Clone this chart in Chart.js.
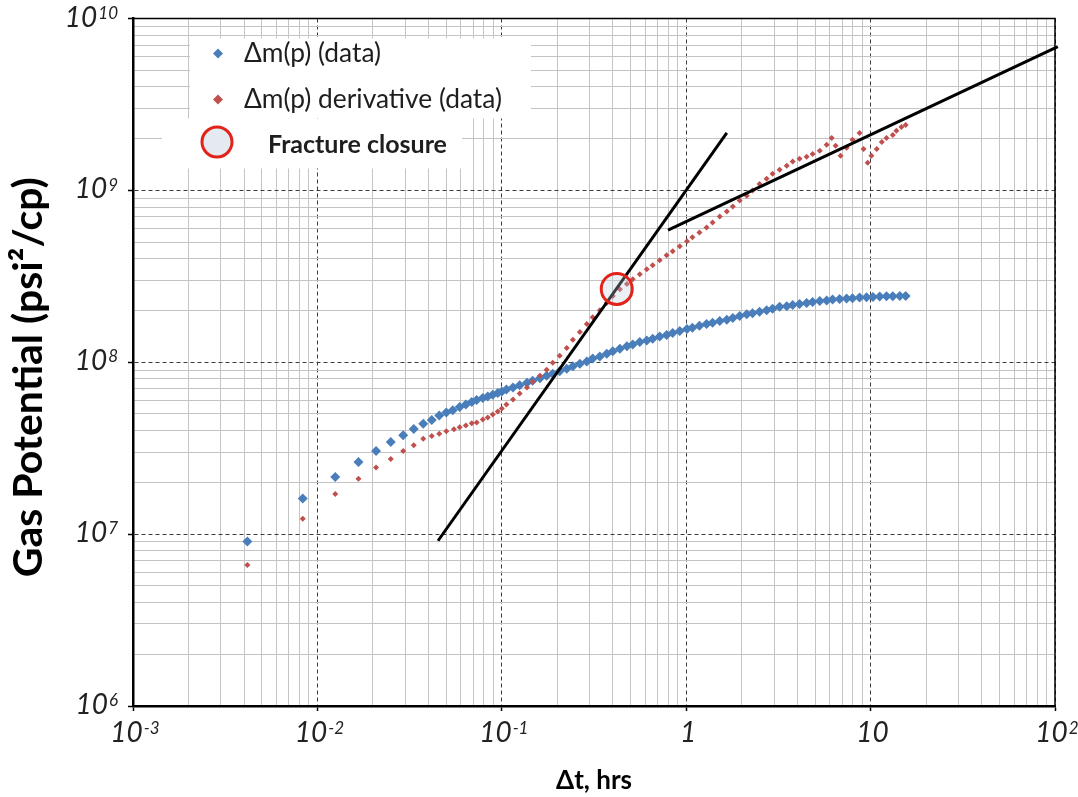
<!DOCTYPE html>
<html>
<head>
<meta charset="utf-8">
<title>Gas potential vs shut-in time</title>
<script src="https://cdn.jsdelivr.net/npm/chart.js@4/dist/chart.umd.min.js"></script>
<style>
  html, body { margin: 0; padding: 0; background: #fff; }
  #wrap { width: 1078px; height: 797px; position: relative; }
</style>
</head>
<body>
<div id="wrap"><canvas id="chart"></canvas></div>
<script>
// Shut-in time, hrs
const dmpTime = [
  0.00417, 0.00833, 0.0125, 0.0167, 0.0208, 0.025, 0.0292, 0.0333, 0.0375, 0.0417, 0.0458, 0.05, 0.0542,
  0.0591, 0.0638, 0.0687, 0.0731, 0.0789, 0.0839, 0.0893, 0.0951, 0.100, 0.106,
  0.115, 0.125, 0.137, 0.147, 0.161, 0.175, 0.189, 0.206, 0.225, 0.243,
  0.265, 0.289, 0.311, 0.340, 0.371, 0.400, 0.437, 0.477, 0.513, 0.560,
  0.611, 0.658, 0.718, 0.783, 0.845, 0.923, 1.01, 1.08, 1.18, 1.29,
  1.39, 1.52, 1.66, 1.79, 1.95, 2.13, 2.29, 2.50, 2.73, 2.94,
  3.21, 3.51, 3.78, 4.12, 4.50, 4.85, 5.30, 5.78, 6.22, 6.79,
  7.41, 7.98, 8.71, 9.51, 10.3, 11.2, 12.2, 13.2, 14.4, 15.5
];
// Δm(p), psi²/cp
const dmpValue = [
  9.06e6, 1.61e7, 2.15e7, 2.63e7, 3.05e7, 3.44e7, 3.76e7, 4.09e7, 4.39e7, 4.61e7, 4.90e7, 5.10e7, 5.26e7,
  5.49e7, 5.68e7, 5.87e7, 6.03e7, 6.19e7, 6.31e7, 6.48e7, 6.62e7, 6.75e7, 6.93e7,
  7.12e7, 7.36e7, 7.61e7, 7.81e7, 8.08e7, 8.35e7, 8.58e7, 8.87e7, 9.17e7, 9.48e7,
  9.80e7, 1.01e8, 1.05e8, 1.08e8, 1.12e8, 1.16e8, 1.20e8, 1.24e8, 1.27e8, 1.31e8,
  1.34e8, 1.37e8, 1.41e8, 1.44e8, 1.48e8, 1.52e8, 1.56e8, 1.59e8, 1.63e8, 1.67e8,
  1.70e8, 1.74e8, 1.77e8, 1.81e8, 1.86e8, 1.90e8, 1.93e8, 1.97e8, 2.01e8, 2.05e8,
  2.10e8, 2.12e8, 2.15e8, 2.18e8, 2.21e8, 2.24e8, 2.27e8, 2.29e8, 2.32e8, 2.33e8,
  2.35e8, 2.36e8, 2.38e8, 2.39e8, 2.40e8, 2.41e8, 2.42e8, 2.42e8, 2.43e8, 2.43e8
];
// Derivative sampling times, hrs
const derivTime = [
  0.00417, 0.00833, 0.0125, 0.0167, 0.0208, 0.025, 0.0292, 0.0333, 0.0375, 0.0417, 0.0458, 0.05,
  0.0550, 0.0591, 0.0638, 0.0687, 0.0731, 0.0789, 0.0839, 0.0893, 0.0951, 0.100,
  0.106, 0.115, 0.125, 0.137, 0.147, 0.161, 0.175, 0.189, 0.206, 0.225,
  0.243, 0.265, 0.289, 0.311, 0.340, 0.371, 0.400, 0.437, 0.477, 0.513,
  0.560, 0.611, 0.658, 0.718, 0.783, 0.845, 0.923, 1.01, 1.08, 1.18,
  1.29, 1.39, 1.52, 1.66, 1.79, 1.95, 2.13, 2.29, 2.50, 2.73,
  2.94, 3.21, 3.51, 3.78, 4.12, 4.50, 4.85, 5.30, 5.78, 6.15,
  6.46, 6.87, 7.41, 7.98, 8.71, 9.16, 9.64, 10.1, 10.8, 11.5,
  12.2, 13.2, 13.8, 14.7, 15.5
];
// Δm(p) derivative, psi²/cp
const derivValue = [
  6.61e6, 1.23e7, 1.71e7, 2.10e7, 2.44e7, 2.74e7, 3.05e7, 3.29e7, 3.59e7, 3.72e7, 3.84e7, 3.97e7,
  4.07e7, 4.18e7, 4.29e7, 4.41e7, 4.46e7, 4.65e7, 4.77e7, 4.97e7, 5.17e7, 5.38e7,
  5.68e7, 6.07e7, 6.57e7, 7.12e7, 7.71e7, 8.35e7, 9.05e7, 9.93e7, 1.09e8, 1.21e8,
  1.35e8, 1.50e8, 1.67e8, 1.83e8, 2.01e8, 2.21e8, 2.43e8, 2.66e8, 2.85e8, 3.04e8,
  3.25e8, 3.48e8, 3.67e8, 3.92e8, 4.19e8, 4.42e8, 4.73e8, 5.05e8, 5.33e8, 5.69e8,
  6.09e8, 6.51e8, 7.05e8, 7.53e8, 8.05e8, 8.73e8, 9.32e8, 9.97e8, 1.09e9, 1.17e9,
  1.25e9, 1.32e9, 1.39e9, 1.47e9, 1.53e9, 1.57e9, 1.63e9, 1.70e9, 1.84e9, 2.02e9,
  1.82e9, 1.59e9, 1.77e9, 1.97e9, 2.16e9, 1.74e9, 1.45e9, 1.59e9, 1.74e9, 1.91e9,
  2.02e9, 2.10e9, 2.22e9, 2.34e9, 2.40e9
];
// Fracture closure pick
const closureTime = [0.42];
const closureValue = [2.67e8];
// Straight-line guides (end points)
const steepGuideTime = [0.0451, 1.66];
const steepGuideValue = [9.15e6, 2.16e9];
const halfSlopeGuideTime = [0.797, 103.6];
const halfSlopeGuideValue = [5.87e8, 6.86e9];
// Axis decades and their labels (base + exponent)
const xDecades = [-3, -2, -1, 0, 1, 2];
const xTickBase = ['10', '10', '10', '1', '10', '10'];
const xTickExp = ['-3', '-2', '-1', '', '', '2'];
const yDecades = [6, 7, 8, 9, 10];
const yTickBase = ['10', '10', '10', '10', '10'];
const yTickExp = ['6', '7', '8', '9', '10'];

const seriesLabels = ['Δm(p) (data)', 'Δm(p) derivative (data)', 'Fracture closure'];
const xTitle = 'Δt, hrs';
const yTitle = 'Gas Potential (psi²/cp)';

const FAMILY = 'Lato, "Open Sans", "DejaVu Sans", sans-serif';
const BLUE = '#4a7ebb';
const RED = '#c0504d';
const CIRCLE_RED = '#e2231a';
const CIRCLE_FILL = 'rgba(190,205,222,0.30)';
const TICK_BASE_PX = 28;
const TICK_EXP_PX = 17;

// font size that makes `text` span `target` pixels
const measurer = document.createElement('canvas').getContext('2d');
function fitSize(text, style, weight, target) {
  measurer.font = `${style} ${weight} 100px ${FAMILY}`;
  return 100 * target / measurer.measureText(text).width;
}
const legendSize = fitSize(seriesLabels[1], 'normal', 'normal', 258);
const closureSize = fitSize(seriesLabels[2], 'normal', 'bold', 179);
const yTitleSize = fitSize(yTitle, 'normal', 'bold', 400);
const xTitleSize = fitSize(xTitle, 'normal', 'bold', 76);

function pairs(xs, ys) { return xs.map((x, i) => ({ x: x, y: ys[i] })); }

// 1..9 × 10^d gridlines for each decade
function decadeTicks(decades) {
  const out = [];
  decades.forEach((d, i) => {
    const last = i === decades.length - 1;
    for (let m = 1; m <= (last ? 1 : 9); m++) {
      out.push({ value: m * Math.pow(10, d), major: m === 1 });
    }
  });
  return out;
}

const isMajor = (c) => !!(c.tick && c.tick.major);
function logAxis(decades, extra) {
  return Object.assign({
    type: 'logarithmic',
    min: Math.pow(10, decades[0]),
    max: Math.pow(10, decades[decades.length - 1]),
    afterBuildTicks: (s) => { s.ticks = decadeTicks(decades); },
    ticks: {
      autoSkip: false, maxRotation: 0, minRotation: 0,
      // decade labels are set with raised exponents by the axisLabels plugin
      callback: () => ''
    },
    grid: {
      color: (c) => isMajor(c) ? '#3c3c3c' : '#c4c4c4',
      lineWidth: 1,
      tickLength: 5,
      tickWidth: 1.5,
      tickColor: (c) => isMajor(c) ? '#000' : 'rgba(0,0,0,0)'
    },
    border: {
      display: true, color: '#000', width: 2.5,
      dash: (c) => isMajor(c) ? [4, 3] : []
    }
  }, extra);
}

// decade labels as 10 with a superscript exponent, and the rotated y title
const axisLabels = {
  id: 'axisLabels',
  afterDraw(chart) {
    const { ctx, chartArea: a } = chart;
    const xs = chart.scales.x, ys = chart.scales.y;
    const baseFont = `italic ${TICK_BASE_PX}px ${FAMILY}`;
    const expFont = `italic ${TICK_EXP_PX}px ${FAMILY}`;
    const capBase = TICK_BASE_PX * 0.72;
    const capExp = TICK_EXP_PX * 0.72;
    ctx.save();
    ctx.fillStyle = '#222';
    ctx.textBaseline = 'alphabetic';
    ctx.textAlign = 'left';

    const widthOf = (t, f) => { ctx.font = f; return t ? ctx.measureText(t).width : 0; };

    // y axis: right-aligned just left of the tick marks
    yDecades.forEach((d, i) => {
      const py = ys.getPixelForValue(Math.pow(10, d));
      const right = a.left - 15;
      const we = widthOf(yTickExp[i], expFont);
      const wb = widthOf(yTickBase[i], baseFont);
      const baseline = py + capBase / 2 - 2;
      ctx.font = baseFont;
      ctx.fillText(yTickBase[i], right - we - wb - 1, baseline);
      ctx.font = expFont;
      ctx.fillText(yTickExp[i], right - we, baseline - capBase + capExp);
    });

    // x axis: centred under each decade
    xDecades.forEach((d, i) => {
      const px = xs.getPixelForValue(Math.pow(10, d));
      const wb = widthOf(xTickBase[i], baseFont);
      const we = widthOf(xTickExp[i], expFont);
      const total = wb + (we ? we + 1 : 0);
      const left = px - total / 2 + 2;
      const baseline = a.bottom + 16 + capBase;
      ctx.font = baseFont;
      ctx.fillText(xTickBase[i], left, baseline);
      if (we) {
        ctx.font = expFont;
        ctx.fillText(xTickExp[i], left + wb + 1, baseline - capBase + capExp);
      }
    });

    // y title
    ctx.translate(29, (a.top + a.bottom) / 2 + 15);
    ctx.rotate(-Math.PI / 2);
    ctx.textAlign = 'center';
    ctx.textBaseline = 'middle';
    ctx.fillStyle = '#000';
    ctx.font = `bold ${yTitleSize}px ${FAMILY}`;
    ctx.fillText(yTitle, 0, 0);
    ctx.restore();
  }
};

// white legend panels and their entries, plus the plot frame
const panelLegend = {
  id: 'panelLegend',
  beforeDatasetsDraw(chart) {
    const { ctx, chartArea: a } = chart;
    ctx.save();
    ctx.strokeStyle = '#000';
    ctx.lineWidth = 1.5;
    ctx.strokeRect(a.left, a.top, a.right - a.left, a.bottom - a.top);

    ctx.fillStyle = '#fff';
    ctx.fillRect(a.left + 57, a.top + 20, 341, 80);
    ctx.fillRect(a.left + 29, a.top + 100, 300, 50);

    const diamond = (x, y, r, color) => {
      ctx.beginPath();
      ctx.moveTo(x, y - r); ctx.lineTo(x + r, y); ctx.lineTo(x, y + r); ctx.lineTo(x - r, y);
      ctx.closePath();
      ctx.fillStyle = color;
      ctx.fill();
    };
    ctx.textBaseline = 'middle';
    ctx.textAlign = 'left';
    ctx.font = `normal ${legendSize}px ${FAMILY}`;
    diamond(a.left + 85, a.top + 35, 5, BLUE);
    ctx.fillStyle = '#1e1e1e';
    ctx.fillText(seriesLabels[0], a.left + 111, a.top + 35);
    diamond(a.left + 85, a.top + 81, 5, RED);
    ctx.fillStyle = '#1e1e1e';
    ctx.fillText(seriesLabels[1], a.left + 111, a.top + 81);

    ctx.beginPath();
    ctx.arc(a.left + 84, a.top + 123.5, 15, 0, Math.PI * 2);
    ctx.fillStyle = '#e4eaf0';
    ctx.fill();
    ctx.lineWidth = 3;
    ctx.strokeStyle = CIRCLE_RED;
    ctx.stroke();
    ctx.fillStyle = '#1e1e1e';
    ctx.font = `bold ${closureSize}px ${FAMILY}`;
    ctx.fillText(seriesLabels[2], a.left + 135, a.top + 126.5);
    ctx.restore();
  }
};

const X_AXIS_HEIGHT = 91;
const Y_AXIS_WIDTH = 133;
const xTitleLine = xTitleSize * 1.2;

new Chart(document.getElementById('chart'), {
  type: 'scatter',
  data: {
    datasets: [
      {
        label: seriesLabels[2],
        data: pairs(closureTime, closureValue),
        pointStyle: 'circle', pointRadius: 15.5, pointBorderWidth: 3,
        pointBorderColor: CIRCLE_RED, pointBackgroundColor: CIRCLE_FILL,
        borderColor: CIRCLE_RED, backgroundColor: CIRCLE_FILL,
        order: 0
      },
      {
        label: 'Steep guide',
        data: pairs(steepGuideTime, steepGuideValue),
        showLine: true, borderColor: '#000', borderWidth: 3, pointRadius: 0,
        clip: false, order: 1
      },
      {
        label: 'Half-slope guide',
        data: pairs(halfSlopeGuideTime, halfSlopeGuideValue),
        showLine: true, borderColor: '#000', borderWidth: 3, pointRadius: 0,
        clip: false, order: 1
      },
      {
        label: seriesLabels[1],
        data: pairs(derivTime, derivValue),
        pointStyle: 'rectRot', pointRadius: 3, pointBorderWidth: 0,
        pointBackgroundColor: RED, backgroundColor: RED, borderColor: RED,
        order: 2
      },
      {
        label: seriesLabels[0],
        data: pairs(dmpTime, dmpValue),
        pointStyle: 'rectRot', pointRadius: 5, pointBorderWidth: 0,
        pointBackgroundColor: BLUE, backgroundColor: BLUE, borderColor: BLUE,
        order: 3
      }
    ]
  },
  options: {
    responsive: true,
    maintainAspectRatio: false,
    animation: false,
    devicePixelRatio: 1,
    events: [],
    layout: { padding: { top: 15, right: 23, bottom: 0, left: 0 } },
    plugins: { legend: { display: false }, tooltip: { enabled: false } },
    scales: {
      x: logAxis(xDecades, {
        position: 'bottom',
        afterFit: (s) => { s.height = X_AXIS_HEIGHT; },
        title: {
          display: true, text: xTitle, color: '#000',
          font: { family: FAMILY, size: xTitleSize, weight: 'bold' },
          padding: { top: 0, bottom: 797 - 781 - xTitleLine / 2 }
        }
      }),
      y: logAxis(yDecades, {
        position: 'left',
        afterFit: (s) => { s.width = Y_AXIS_WIDTH; }
      })
    }
  },
  plugins: [panelLegend, axisLabels]
});
</script>
</body>
</html>
